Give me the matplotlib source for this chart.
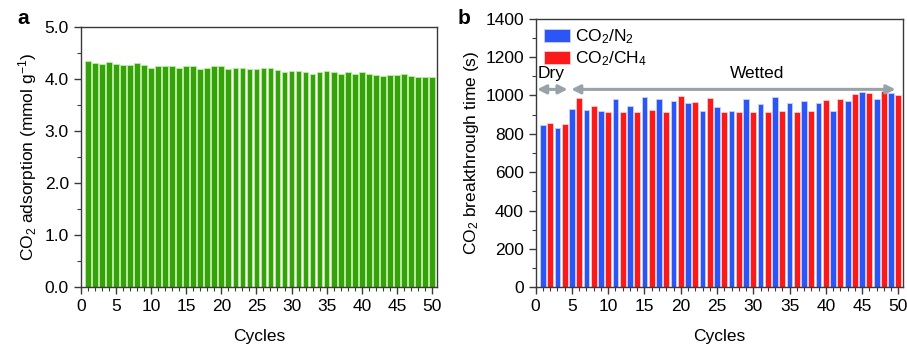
import numpy as np
import matplotlib
matplotlib.use('Agg')
from matplotlib import pyplot as plt
from matplotlib.ticker import MultipleLocator

plt.rc('font', family='Liberation Sans', size=12.5)
plt.rc('mathtext', default='regular')
plt.rc('axes', edgecolor='#3a3a3a', linewidth=1.0)

# Panel a: CO2 adsorption per cycle
cycles = np.arange(1, 51)
adsorption = [4.35, 4.31, 4.29, 4.32, 4.29, 4.26, 4.27, 4.30, 4.26, 4.21,
              4.25, 4.25, 4.25, 4.21, 4.25, 4.25, 4.20, 4.21, 4.25, 4.25,
              4.20, 4.22, 4.22, 4.20, 4.20, 4.22, 4.22, 4.18, 4.13, 4.15,
              4.15, 4.13, 4.10, 4.13, 4.15, 4.13, 4.10, 4.13, 4.10, 4.13,
              4.10, 4.08, 4.06, 4.08, 4.07, 4.10, 4.06, 4.03, 4.03, 4.03]

# Panel b: breakthrough time (odd cycles CO2/N2, even cycles CO2/CH4)
breakthrough = [843, 854, 831, 852, 930, 984, 925, 947, 919, 911,
                980, 914, 945, 911, 991, 921, 982, 911, 973, 999,
                961, 966, 919, 984, 937, 914, 919, 911, 979, 914,
                953, 911, 989, 919, 958, 914, 972, 919, 961, 977,
                919, 982, 973, 1006, 1018, 1011, 979, 1023, 1013, 1001]
series_labels = ['CO$_2$/N$_2$', 'CO$_2$/CH$_4$']

green = '#36a10a'
blue = '#2b55f5'
red = '#fa1a1a'

fig = plt.figure(figsize=(9.07, 3.47), dpi=100)
axA = fig.add_axes([0.089, 0.173, 0.3926, 0.7493])
axB = fig.add_axes([0.5906, 0.172, 0.4047, 0.7746])

# --- a ---
axA.bar(cycles, adsorption, width=0.8, color=green, edgecolor='#b8f0a0', linewidth=0.6)
axA.set_xlim(0, 50.67)
axA.set_ylim(0, 5.0)
axA.yaxis.set_major_locator(MultipleLocator(1.0))
axA.yaxis.set_minor_locator(MultipleLocator(0.5))
axA.set_yticklabels(['%.1f' % v for v in axA.get_yticks()])
axA.set_ylabel('CO$_2$ adsorption (mmol g$^{-1}$)', labelpad=4)
axA.set_xlabel('Cycles', labelpad=11)

# --- b ---
n2 = cycles % 2 == 1
ch4 = ~n2
bt = np.array(breakthrough)
axB.bar(cycles[n2], bt[n2], width=0.8, color=blue, edgecolor='#c8d0ff', linewidth=0.6,
        label=series_labels[0])
axB.bar(cycles[ch4], bt[ch4], width=0.8, color=red, edgecolor='#ffd0d0', linewidth=0.6,
        label=series_labels[1])
axB.set_xlim(0, 50.6)
axB.set_ylim(0, 1400)
axB.yaxis.set_major_locator(MultipleLocator(200))
axB.yaxis.set_minor_locator(MultipleLocator(100))
axB.set_ylabel('CO$_2$ breakthrough time (s)', labelpad=3)
axB.set_xlabel('Cycles', labelpad=11)
axB.legend(loc='upper left', frameon=False, handlelength=1.5, handleheight=0.8,
           handletextpad=0.25, labelspacing=0.2, borderaxespad=0.1,
           bbox_to_anchor=(0.0, 1.0), fontsize=12.5)

arrow_c = '#97a3a8'
axB.annotate('', xy=(0.2, 1031), xytext=(4.4, 1031),
             arrowprops=dict(arrowstyle='<|-|>', color=arrow_c, lw=2.2, mutation_scale=13,
                             shrinkA=0, shrinkB=0))
axB.annotate('', xy=(4.9, 1031), xytext=(49.6, 1031),
             arrowprops=dict(arrowstyle='<|-|>', color=arrow_c, lw=2.2, mutation_scale=13,
                             shrinkA=0, shrinkB=0))
axB.text(0.3, 1075, 'Dry', ha='left', va='bottom', fontsize=12.5)
axB.text(30.5, 1075, 'Wetted', ha='center', va='bottom', fontsize=12.5)

for ax in (axA, axB):
    ax.xaxis.set_major_locator(MultipleLocator(5))
    ax.xaxis.set_minor_locator(MultipleLocator(1))
    ax.tick_params(which='major', direction='out', length=5, width=1, color='#3a3a3a')
    ax.tick_params(which='minor', direction='out', length=3, width=0.8, color='#3a3a3a')

fig.text(17 / 907, 1 - 19 / 347, 'a', fontsize=15, fontweight='bold', ha='left', va='center')
fig.text(458 / 907, 1 - 19 / 347, 'b', fontsize=15, fontweight='bold', ha='left', va='center')

fig.savefig('out.png', dpi=100)
